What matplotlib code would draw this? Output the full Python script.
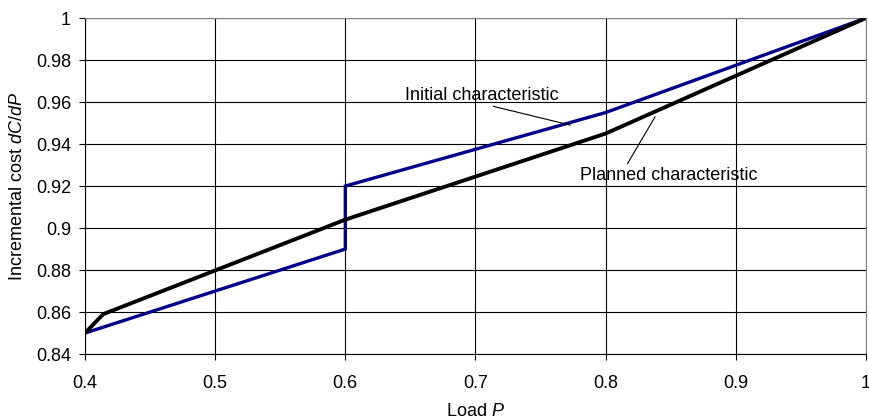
import matplotlib
matplotlib.use("Agg")
import matplotlib.pyplot as plt
from matplotlib.ticker import FuncFormatter

plt.rcParams['font.family'] = ['Liberation Sans', 'DejaVu Sans']
plt.rcParams['mathtext.fontset'] = 'custom'
plt.rcParams['mathtext.rm'] = 'Liberation Sans'
plt.rcParams['mathtext.it'] = 'Liberation Sans:italic'

# initial characteristic (step at P = 0.6)
initial_p = [0.4, 0.6, 0.6, 0.8, 1.0]
initial_cost = [0.85, 0.89, 0.92, 0.955, 1.0]

# planned characteristic
planned_p = [0.4, 0.414, 0.6, 0.8, 1.0]
planned_cost = [0.85, 0.859, 0.904, 0.945, 1.0]

x_ticks = [0.4, 0.5, 0.6, 0.7, 0.8, 0.9, 1.0]
y_ticks = [0.84, 0.86, 0.88, 0.90, 0.92, 0.94, 0.96, 0.98, 1.0]

fs = 13

fig = plt.figure(figsize=(8.69, 4.19), dpi=100)
ax = fig.add_axes([0.0978, 0.155, 0.8987, 0.802])

ax.plot(initial_p, initial_cost, color='#00008b', lw=2.4, solid_joinstyle='miter', zorder=3)
ax.plot(planned_p, planned_cost, color='black', lw=2.8, zorder=4)

ax.set_xlim(0.4, 1.0)
ax.set_ylim(0.84, 1.0)
ax.set_xticks(x_ticks)
ax.set_yticks(y_ticks)
fmt = FuncFormatter(lambda v, pos: '%g' % round(v, 2))
ax.xaxis.set_major_formatter(fmt)
ax.yaxis.set_major_formatter(fmt)
ax.tick_params(direction='out', length=4, width=0.8, labelsize=fs, pad=6)
ax.tick_params(axis='x', pad=11)
ax.grid(True, color='black', lw=0.8)
ax.set_axisbelow(True)

for s in ['top', 'right']:
    ax.spines[s].set_color('#808080')
for s in ['left', 'bottom']:
    ax.spines[s].set_color('black')

ax.set_xlabel('Load $P$', fontsize=fs, labelpad=8)
ax.set_ylabel('Incremental cost $dC/dP$', fontsize=fs, labelpad=7)

ax.annotate('Initial characteristic', xy=(0.773, 0.949), xytext=(0.646, 0.9633),
            fontsize=fs, va='center', ha='left',
            arrowprops=dict(arrowstyle='-', color='black', lw=0.8,
                            shrinkA=0, shrinkB=0, relpos=(0.5, 0.0)))
ax.annotate('Planned characteristic', xy=(0.838, 0.953), xytext=(0.780, 0.9252),
            fontsize=fs, va='center', ha='left',
            arrowprops=dict(arrowstyle='-', color='black', lw=0.8,
                            shrinkA=0, shrinkB=0, relpos=(0.26, 1.0)))

fig.savefig('out.png', dpi=100)
